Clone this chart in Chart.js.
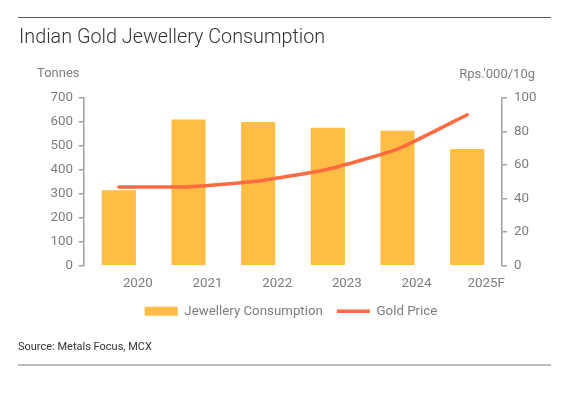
<!DOCTYPE html>
<html><head><meta charset="utf-8">
<script src="https://cdn.jsdelivr.net/npm/chart.js@4.4.0/dist/chart.umd.min.js"></script>
<style>
html,body{margin:0;padding:0;background:#fff;}
#wrap{position:relative;width:582px;height:393px;overflow:hidden;font-family:Roboto,"Liberation Sans",sans-serif;}
canvas{position:absolute;left:0;top:0;}
.t{position:absolute;white-space:nowrap;}
#rule1{position:absolute;left:18px;top:17px;width:533px;height:1px;background:#555;}
#rule2{position:absolute;left:18px;top:364px;width:533px;height:2px;background:#bbb;}
#title{left:19px;top:25px;font-size:19.8px;font-weight:300;color:#333;}
#yl{left:37px;top:65px;font-size:13px;color:#7d7d7d;}
#yr{right:47px;top:66px;font-size:13px;color:#7d7d7d;}
#src{left:18px;top:340px;font-size:11px;color:#333;}
</style></head>
<body><div id="wrap">
<canvas id="c" width="582" height="393"></canvas>
<div id="rule1"></div>
<div class="t" id="title">Indian Gold Jewellery Consumption</div>
<div class="t" id="yl">Tonnes</div>
<div class="t" id="yr">Rps.'000/10g</div>
<div class="t" id="src">Source: Metals Focus, MCX</div>
<div id="rule2"></div>
</div>
<script>
const categories = ['2020','2021','2022','2023','2024','2025F'];
const jewelleryConsumption = [315, 610, 600, 576, 563, 487];
const goldPrice = [47, 47, 50.5, 57.5, 69.5, 90];
const leftTicks = [0,100,200,300,400,500,600,700];
const rightTicks = [0,20,40,60,80,100];

const tickFont = {family:'Roboto', size:13.3};
const tickColor = '#7d7d7d';
const axisColor = '#a0a0a0';

new Chart(document.getElementById('c'), {
  data: {
    labels: categories,
    datasets: [
      {type:'line', label:'Gold Price', data: goldPrice, yAxisID:'y2',
       borderColor:'#FF6A40', backgroundColor:'#FF6A40', borderWidth:3.5,
       pointRadius:0, tension:0.15, borderCapStyle:'round', pointStyle:'line', order:0},
      {type:'bar', label:'Jewellery Consumption', data: jewelleryConsumption, yAxisID:'y',
       backgroundColor:'#FFBD45', borderWidth:0, categoryPercentage:1, barPercentage:0.49,
       pointStyle:'rect', order:1}
    ]
  },
  options: {
    responsive:false, animation:false, devicePixelRatio:1,
    layout:{padding:{top:98, bottom:65, left:0, right:0}},
    plugins:{
      tooltip:{enabled:false},
      legend:{position:'bottom', reverse:true,
        labels:{usePointStyle:true, pointStyleWidth:33, boxHeight:9, padding:14,
          font:{family:'Roboto', size:13.3}, color:'#7d7d7d'}}
    },
    scales:{
      x:{grid:{display:false, drawTicks:false}, border:{display:false},
         ticks:{font:tickFont, color:tickColor, padding:10, labelOffset:19, maxRotation:0},
         afterFit:s=>{s.height=25;}},
      y:{position:'left', min:0, max:700,
         afterBuildTicks:s=>{s.ticks=leftTicks.map(v=>({value:v}));},
         grid:{drawOnChartArea:false, drawTicks:true, tickLength:5, color:axisColor, lineWidth:1.5},
         border:{display:true, color:axisColor, width:1.5},
         ticks:{font:tickFont, color:tickColor, padding:6},
         afterFit:s=>{s.width=84;}},
      y2:{position:'right', min:0, max:100,
         afterBuildTicks:s=>{s.ticks=rightTicks.map(v=>({value:v}));},
         grid:{drawOnChartArea:false, drawTicks:true, tickLength:5, color:axisColor, lineWidth:1.5},
         border:{display:true, color:axisColor, width:1.5},
         ticks:{font:tickFont, color:tickColor, padding:7},
         afterFit:s=>{s.width=80;}}
    }
  }
});
</script>
</body></html>
